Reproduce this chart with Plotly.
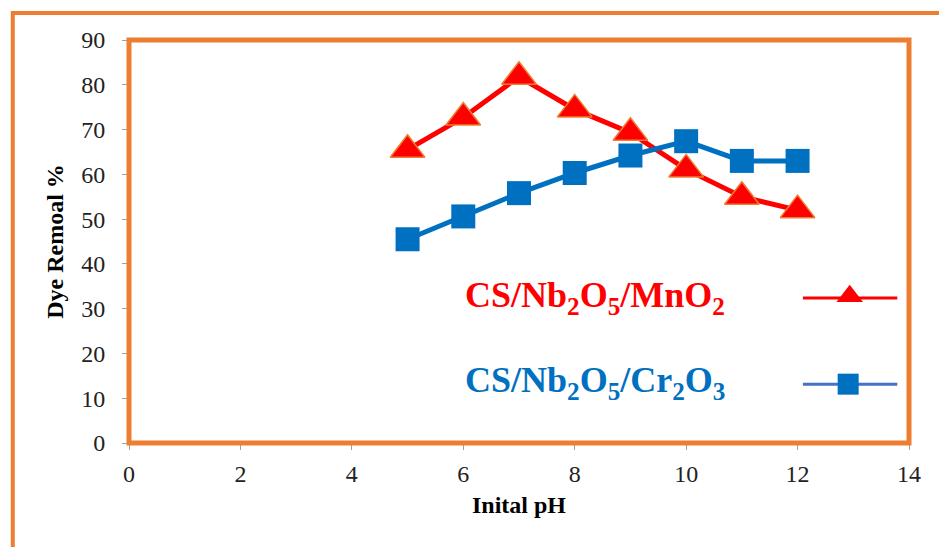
import plotly.graph_objects as go

ph = [5, 6, 7, 8, 9, 10, 11, 12]
mno2 = [65.5, 72.7, 81.8, 74.5, 69.3, 61.1, 55.0, 52.0]
cr2o3 = [45.5, 50.6, 55.8, 60.3, 64.2, 67.4, 63.0, 63.0]

x_ticks = [0, 2, 4, 6, 8, 10, 12, 14]
y_ticks = [0, 10, 20, 30, 40, 50, 60, 70, 80, 90]

RED = "#FF0000"
BLUE = "#0070C0"
ORANGE = "#ED7D31"
FONT = "Liberation Serif"

fig = go.Figure()

fig.add_trace(go.Scatter(
    x=ph, y=mno2, mode="lines+markers",
    line=dict(color=RED, width=5),
    marker=dict(symbol="triangle-up", size=30, color=RED,
                line=dict(color=ORANGE, width=1.5)),
    showlegend=False, cliponaxis=False))

fig.add_trace(go.Scatter(
    x=ph, y=cr2o3, mode="lines+markers",
    line=dict(color=BLUE, width=5),
    marker=dict(symbol="square", size=24, color=BLUE,
                line=dict(color=BLUE, width=0)),
    showlegend=False, cliponaxis=False))

# legend keys (overlay axis in [0,1] units)
fig.add_trace(go.Scatter(
    x=[0.864, 0.924, 0.985], y=[0.360, 0.360, 0.360], mode="lines",
    line=dict(color=RED, width=3), xaxis="x2", yaxis="y2",
    showlegend=False, hoverinfo="skip"))
fig.add_trace(go.Scatter(
    x=[0.924], y=[0.364], mode="markers",
    marker=dict(symbol="triangle-up", size=23, color=RED),
    xaxis="x2", yaxis="y2", showlegend=False, hoverinfo="skip"))
fig.add_trace(go.Scatter(
    x=[0.864, 0.922, 0.985], y=[0.146, 0.146, 0.146], mode="lines",
    line=dict(color="#4472C4", width=3), xaxis="x2", yaxis="y2",
    showlegend=False, hoverinfo="skip"))
fig.add_trace(go.Scatter(
    x=[0.922], y=[0.146], mode="markers",
    marker=dict(symbol="square", size=21, color=BLUE),
    xaxis="x2", yaxis="y2", showlegend=False, hoverinfo="skip"))

fig.add_annotation(
    text="CS/Nb<sub>2</sub>O<sub>5</sub>/MnO<sub>2</sub>",
    xref="paper", yref="paper", x=0.428, y=0.362,
    xanchor="left", yanchor="middle", showarrow=False,
    font=dict(family=FONT, size=36, color=RED, weight="bold"))
fig.add_annotation(
    text="CS/Nb<sub>2</sub>O<sub>5</sub>/Cr<sub>2</sub>O<sub>3</sub>",
    xref="paper", yref="paper", x=0.428, y=0.150,
    xanchor="left", yanchor="middle", showarrow=False,
    font=dict(family=FONT, size=36, color=BLUE, weight="bold"))

# plot-area border and outer frame
fig.add_shape(type="rect", xref="paper", yref="paper", x0=0, x1=1, y0=0, y1=1,
              line=dict(color=ORANGE, width=5), layer="above")
fig.add_shape(type="rect", xref="paper", yref="paper",
              x0=-0.149, x1=1.2, y0=-0.4, y1=1.067,
              line=dict(color=ORANGE, width=4), layer="above")

fig.update_layout(
    width=939, height=547,
    margin=dict(l=129, r=30, t=40, b=104),
    paper_bgcolor="white", plot_bgcolor="white",
    font=dict(family=FONT, color="#000000"),
    xaxis=dict(range=[0, 14], tickvals=x_ticks, ticktext=[str(v) for v in x_ticks],
               showgrid=False, zeroline=False, showline=True, linecolor="#A0A0A0",
               linewidth=1, ticks="outside", ticklen=6, tickcolor="#A0A0A0",
               tickfont=dict(family=FONT, size=24, color="#222222"),
               ticklabelstandoff=3,
               title=dict(text="<b>Inital pH</b>", font=dict(family=FONT, size=24),
                          standoff=10)),
    yaxis=dict(range=[0, 90], tickvals=y_ticks, ticktext=[str(v) for v in y_ticks],
               showgrid=False, zeroline=False, showline=True, linecolor="#A0A0A0",
               linewidth=1, ticks="outside", ticklen=6, tickcolor="#A0A0A0",
               tickfont=dict(family=FONT, size=24, color="#222222"),
               ticklabelstandoff=12,
               title=dict(text="<b>Dye Remoal %</b>", font=dict(family=FONT, size=24),
                          standoff=10)),
    xaxis2=dict(range=[0, 1], overlaying="x", visible=False, fixedrange=True),
    yaxis2=dict(range=[0, 1], overlaying="y", visible=False, fixedrange=True),
)

fig.write_html("out.html")
